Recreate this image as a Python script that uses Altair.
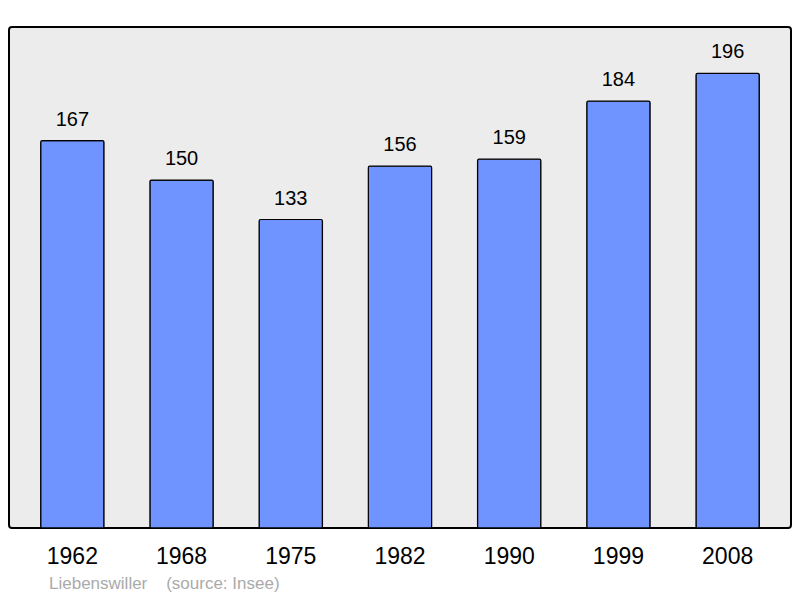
import altair as alt
import pandas as pd

years = ["1962", "1968", "1975", "1982", "1990", "1999", "2008"]
population = [167, 150, 133, 156, 159, 184, 196]

df = pd.DataFrame({"year": years, "pop": population})

x = alt.X("year:N", sort=years,
          scale=alt.Scale(paddingInner=0.42, paddingOuter=0.29),
          axis=alt.Axis(title=None, labelAngle=0, labelFontSize=23, labelColor="black",
                        labelFont="Liberation Sans", domain=False, ticks=False, labelPadding=17))
y = alt.Y("pop:Q", scale=alt.Scale(domain=[0, 216], nice=False, zero=True),
          axis=None)

bars = alt.Chart(df).mark_bar(color="#7094ff", stroke="black", strokeWidth=1.2,
                              cornerRadius=1.5).encode(x=x, y=y)
labels = alt.Chart(df).mark_text(baseline="alphabetic", dy=-15, fontSize=20,
                                 font="Liberation Sans", color="black").encode(
    x=x, y=y, text="pop:Q")

chart = alt.layer(bars, labels).properties(
    width=782, height=501,
    autosize=alt.AutoSizeParams(type="none"),
    padding={"left": 1, "top": 19, "right": 1, "bottom": 68},
    title=alt.TitleParams("Liebenswiller\u00a0\u00a0\u00a0 (source: Insee)", orient="bottom",
                          anchor="start", fontSize=17, color="#aaaaaa", fontWeight="normal",
                          font="Liberation Sans", dx=40, offset=8)
).configure(
    background="white",
    view=alt.ViewConfig(fill="#ececec", stroke="black", strokeWidth=2, cornerRadius=3),
)

chart.save("out.html", embed_options={"renderer": "svg", "actions": False})
